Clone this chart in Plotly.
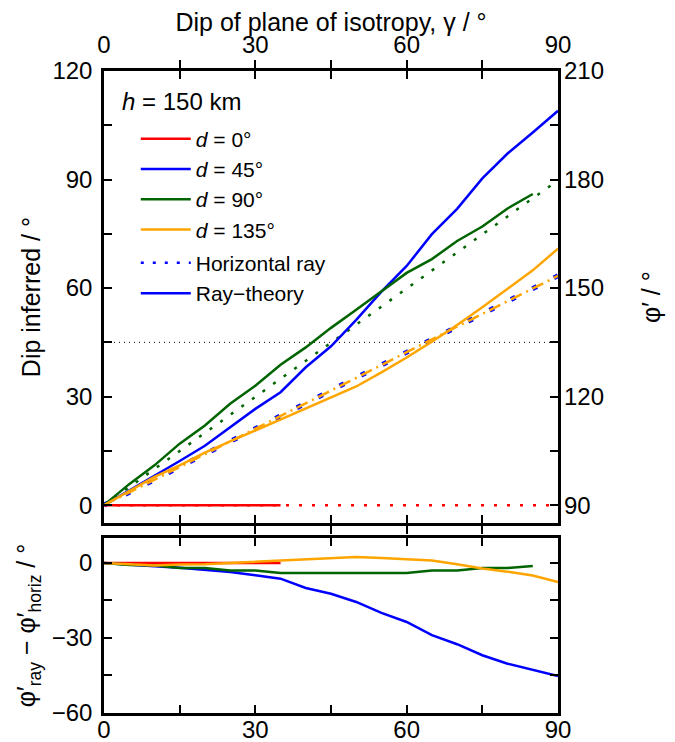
import plotly.graph_objects as go

# ---------------- data ----------------
gamma = [0, 5, 10, 15, 20, 25, 30, 35, 40, 45, 50, 55, 60, 65, 70, 75, 80, 85, 90]
gamma_red = [0, 5, 10, 15, 20, 25, 30, 35]
gamma_green = [0, 5, 10, 15, 20, 25, 30, 35, 40, 45, 50, 55, 60, 65, 70, 75, 80, 85]

# top panel: ray theory (solid)
ray_d0 = [0, 0, 0, 0, 0, 0, 0, 0]
ray_d45 = [0, 4.0, 8.0, 12.2, 16.4, 21.6, 26.6, 31.2, 38.1, 43.9, 51.2, 59.0, 66.1, 74.9, 81.9, 90.3, 97.2, 103.0, 109.0]
ray_d90 = [0, 5.8, 11.0, 17.0, 22.0, 28.0, 33.0, 38.8, 43.6, 49.0, 54.0, 59.0, 64.2, 68.0, 73.0, 77.0, 82.0, 86.0]
ray_d135 = [0, 3.9, 7.8, 11.0, 14.5, 17.6, 20.6, 23.7, 26.7, 29.7, 32.8, 36.7, 40.8, 45.2, 49.8, 54.7, 59.8, 64.9, 70.9]

# top panel: horizontal ray (dotted)
hor_d0 = [0, 0, 0, 0, 0, 0, 0, 0, 0, 0, 0, 0, 0, 0, 0, 0, 0, 0, 0]
hor_d45 = [0, 3.5, 7.0, 10.5, 14.0, 17.6, 21.1, 24.6, 28.2, 31.7, 35.2, 38.7, 42.3, 45.8, 49.3, 52.8, 56.3, 59.8, 63.4]
hor_d90 = [0, 5, 10, 15, 20, 25, 30, 35, 40, 45, 50, 55, 60, 65, 70, 75, 80, 85, 89.8]
hor_d135 = [0, 3.5, 7.0, 10.5, 14.0, 17.6, 21.1, 24.6, 28.2, 31.7, 35.2, 38.7, 42.3, 45.8, 49.3, 52.8, 56.3, 59.8, 63.4]

ref_dip = [45, 45]
ref_x = [0, 90]

# bottom panel: phi'_ray - phi'_horiz
diff_d0 = [0, 0, 0, 0, 0, 0, 0, 0]
diff_d45 = [0, -0.5, -1.3, -1.9, -2.7, -3.6, -4.9, -6.3, -10.0, -12.3, -15.6, -20.0, -23.6, -28.9, -32.5, -36.9, -40.3, -42.9, -45.2]
diff_d90 = [0, -0.8, -1.0, -2.0, -2.0, -3.0, -3.0, -4.0, -4.0, -4.0, -4.0, -4.0, -4.0, -3.0, -3.0, -2.0, -2.0, -1.2]
diff_d135 = [0, -0.5, -1.0, -0.6, -0.5, 0, 0.5, 1.0, 1.5, 2.0, 2.4, 2.0, 1.4, 1.0, -0.5, -2.2, -3.5, -5.0, -7.6]

x_ticks = [0, 15, 30, 45, 60, 75, 90]
x_labels = ["0", "", "30", "", "60", "", "90"]
dip_ticks = [0, 15, 30, 45, 60, 75, 90, 105, 120]
dip_labels = ["0", "", "30", "", "60", "", "90", "", "120"]
phi_ticks = [90, 105, 120, 135, 150, 165, 180, 195, 210]
phi_labels = ["90", "", "120", "", "150", "", "180", "", "210"]
diff_ticks = [-60, -45, -30, -15, 0]
diff_labels = ["\u221260", "", "\u221230", "", "0"]

RED, BLUE, GREEN, ORANGE = "#ff0000", "#0000ff", "#006400", "#ffa500"
FONT = "Liberation Sans, Arial, sans-serif"
LW = 2.5

fig = go.Figure()

def add(x, y, color, dash="solid", width=LW, xa="x2", ya="y2", name=None, show=False, group=None):
    fig.add_trace(go.Scatter(x=x, y=y, mode="lines", xaxis=xa, yaxis=ya,
                             line=dict(color=color, width=width, dash=dash),
                             name=name, showlegend=show, legendgroup=group,
                             hoverinfo="skip"))

# reference line at 45
add(ref_x, ref_dip, "black", dash="1px,4px", width=1)

# horizontal-ray curves
add(gamma, hor_d0, RED, dash="3px,10px", width=LW)
add(gamma, hor_d90, GREEN, dash="3px,10px", width=LW)
add(gamma, hor_d45, BLUE, dash="5px,19px", width=5)
add(gamma, hor_d135, ORANGE, dash="12px,5px,2px,5px", width=LW)

# ray-theory curves
add(gamma_red, ray_d0, RED, name="<i>d</i> = 0\u00b0", show=True, group="a")
add(gamma, ray_d45, BLUE, name="<i>d</i> = 45\u00b0", show=True, group="a")
add(gamma_green, ray_d90, GREEN, name="<i>d</i> = 90\u00b0", show=True, group="a")
add(gamma, ray_d135, ORANGE, name="<i>d</i> = 135\u00b0", show=True, group="a")

# legend-only style entries
add([None], [None], BLUE, dash="3px,9px", width=LW, name="Horizontal ray", show=True, group="b")
add([None], [None], BLUE, name="Ray\u2212theory", show=True, group="b")

# dummy trace for right axis
fig.add_trace(go.Scatter(x=[None], y=[None], xaxis="x2", yaxis="y3", showlegend=False, hoverinfo="skip"))

# bottom panel
add(gamma_red, diff_d0, RED, xa="x", ya="y")
add(gamma, diff_d45, BLUE, xa="x", ya="y")
add(gamma_green, diff_d90, GREEN, xa="x", ya="y")
add(gamma, diff_d135, ORANGE, xa="x", ya="y")

tickfont = dict(family=FONT, size=24, color="black")
axis_common = dict(showgrid=False, zeroline=False, showline=True, linecolor="black",
                   linewidth=2.5, ticks="inside", ticklen=8, tickwidth=1.5,
                   tickcolor="black", tickfont=tickfont, automargin=False)
title_font = dict(family=FONT, size=25, color="black")

# page body adds an 8px offset; figure is sized to compensate
fig.update_layout(
    width=667, height=734,
    margin=dict(l=96, r=117, t=63, b=29),
    paper_bgcolor="white", plot_bgcolor="white",
    font=dict(family=FONT, size=24, color="black"),
    xaxis=dict(domain=[0, 1], anchor="y", range=[0, 90], tickvals=x_ticks, ticktext=x_labels,
               mirror="allticks", ticklabelstandoff=-7, **axis_common),
    yaxis=dict(domain=[0, 0.2727], anchor="x", range=[-60, 10], tickvals=diff_ticks,
               ticktext=diff_labels, mirror="allticks", ticklabelstandoff=4,
               title=dict(text="\u03c6\u2032<sub>ray</sub> \u2212 \u03c6\u2032<sub>horiz</sub> / \u00b0",
                          font=title_font, standoff=9),
               **axis_common),
    xaxis2=dict(domain=[0, 1], anchor="y2", side="top", range=[0, 90], tickvals=x_ticks,
                ticktext=x_labels, mirror="allticks", ticklabelstandoff=6,
                title=dict(text="Dip of plane of isotropy, \u03b3 / \u00b0", font=title_font, standoff=5),
                **axis_common),
    yaxis2=dict(domain=[0.2956, 1], anchor="x2", range=[-5, 120], tickvals=dip_ticks,
                ticktext=dip_labels, mirror="allticks", ticklabelstandoff=4,
                title=dict(text="Dip inferred / \u00b0", font=title_font, standoff=5),
                **axis_common),
    yaxis3=dict(overlaying="y2", anchor="x2", side="right", range=[85, 210], tickvals=phi_ticks,
                ticktext=phi_labels, showgrid=False, zeroline=False, showline=False,
                ticks="", tickfont=tickfont, automargin=False, ticklabelstandoff=5,
                title=dict(text="\u03c6\u2032 / \u00b0", font=title_font, standoff=39)),
    legend=dict(x=0.07, y=0.926, xanchor="left", yanchor="top", bgcolor="rgba(0,0,0,0)",
                font=dict(family=FONT, size=21, color="black"), traceorder="grouped",
                tracegroupgap=3, itemwidth=50),
    annotations=[dict(text="<i>h</i> = 150 km", xref="paper", yref="paper", x=0.035, y=0.953,
                      xanchor="left", yanchor="middle", showarrow=False,
                      font=dict(family=FONT, size=24, color="black"))],
)

fig.write_html("out.html")
